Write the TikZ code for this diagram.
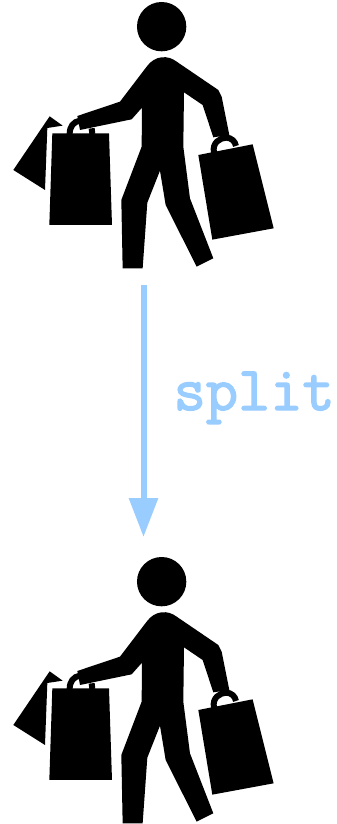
\documentclass[tikz,border=0pt]{standalone}
\usepackage{fontspec}
\usetikzlibrary{arrows.meta}
\newfontfamily\splitfont[FakeBold=2.2]{Latin Modern Mono}
\definecolor{splitblue}{HTML}{99CCFF}
\tikzset{
  shopper/.pic={
    \begin{scope}[x=0.3333pt,y=-0.3333pt]
    \fill[black] (485,80) circle[radius=74];
    \fill[black] (440,200) .. controls (465,165) and (505,165) .. (530,185)
      -- (655,270) -- (665,290) -- (688,405) -- (640,412) -- (608,315) -- (552,277)
      -- (550,440) -- (570,595) -- (640,775) -- (590,800) -- (497,615) -- (480,512)
      -- (442,608) -- (428,805) -- (368,805) -- (364,600) -- (425,440) -- (426,323)
      -- (395,358) -- (240,390) -- (232,348) -- (360,305) -- cycle;
    \fill[black] (157,400) -- (327,400) -- (336,675) -- (148,675) -- cycle;
    \fill[black] (149,349) -- (188,377) -- (142,384) -- (135,570) -- (40,510) -- cycle;
    \fill[black] (595,465) -- (758,433) -- (821,685) -- (637,719) -- cycle;
    \draw[black,line width=6pt] (209,402) .. controls (209,380) and (220,365) .. (240,362);
    \draw[black,line width=6pt] (277,402) -- (275,385);
    \draw[black,line width=6pt] (642,458) .. controls (636,428) and (660,414) .. (678,413)
      .. controls (695,413) and (706,425) .. (708,438);
    \end{scope}
  },
  flow/.style={draw=splitblue,line width=6pt,-{Triangle[length=39pt,width=28pt,fill=splitblue]}}
}
\begin{document}
\begin{tikzpicture}[x=1pt,y=-1pt]
\useasboundingbox (0,0) rectangle (337,824);
\fill[white] (0,0) rectangle (337,824);
\pic at (0,0) {shopper};
\pic at (0,555) {shopper};
\coordinate (from) at (143.5,285);
\coordinate (to) at (143.5,537);
\draw[flow] (from) -- (to);
\node[text=splitblue,inner sep=0pt,anchor=base west] (lbl) at (173.5,410)
  {\fontsize{62.5pt}{62.5pt}\splitfont split};
\end{tikzpicture}
\end{document}
